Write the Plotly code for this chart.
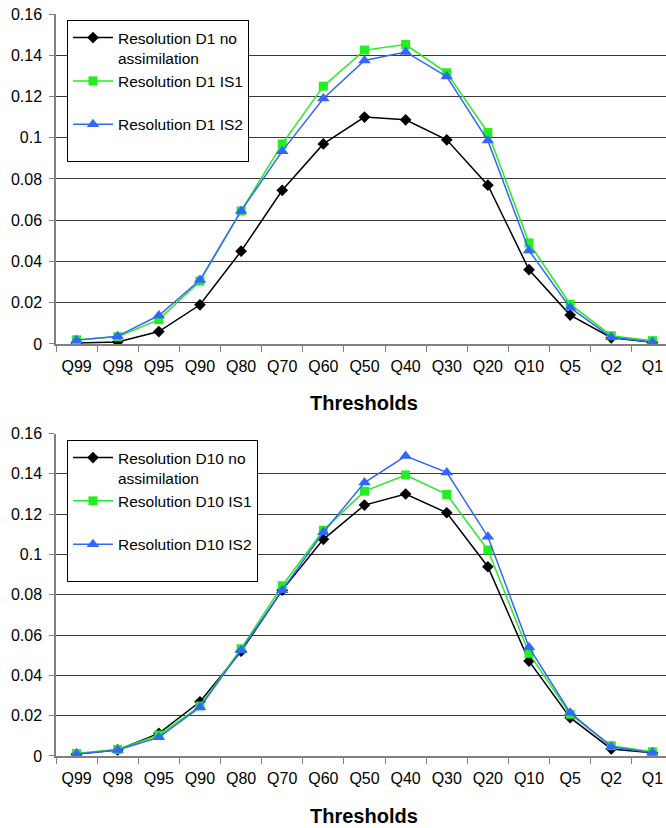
import plotly.graph_objects as go

categories = ["Q99", "Q98", "Q95", "Q90", "Q80", "Q70", "Q60", "Q50", "Q40", "Q30", "Q20", "Q10", "Q5", "Q2", "Q1"]

d1_no_assim = [0.0005, 0.001, 0.006, 0.019, 0.045, 0.0745, 0.097, 0.110, 0.1087, 0.099, 0.077, 0.036, 0.014, 0.003, 0.0008]
d1_is1 = [0.002, 0.0035, 0.0118, 0.0305, 0.0645, 0.097, 0.125, 0.1425, 0.1452, 0.1315, 0.1025, 0.049, 0.0193, 0.004, 0.0016]
d1_is2 = [0.0018, 0.0038, 0.0138, 0.031, 0.0645, 0.0935, 0.119, 0.1375, 0.1416, 0.1297, 0.0986, 0.0453, 0.0176, 0.0032, 0.0009]

d10_no_assim = [0.001, 0.003, 0.0112, 0.0269, 0.052, 0.0823, 0.1075, 0.1245, 0.130, 0.1207, 0.0939, 0.0471, 0.019, 0.0035, 0.0016]
d10_is1 = [0.0012, 0.0033, 0.0104, 0.0248, 0.0532, 0.0845, 0.112, 0.1314, 0.1394, 0.1298, 0.1022, 0.0509, 0.0207, 0.0051, 0.0021]
d10_is2 = [0.001, 0.003, 0.0093, 0.0242, 0.0525, 0.0823, 0.111, 0.1357, 0.1488, 0.1407, 0.1088, 0.0539, 0.0215, 0.0046, 0.0016]

top_names = ["Resolution D1 no<br>assimilation", "Resolution D1 IS1<br> ", "Resolution D1 IS2<br> "]
bottom_names = ["Resolution D10 no<br>assimilation", "Resolution D10 IS1<br> ", "Resolution D10 IS2<br> "]
x_title = "Thresholds"

FONT = "Liberation Sans, Arial, sans-serif"
BLACK = "#000000"
GREEN = "#22EE22"
BLUE = "#3366FF"

styles = [
    dict(color=BLACK, symbol="diamond", size=9),
    dict(color=GREEN, symbol="square", size=9),
    dict(color=BLUE, symbol="triangle-up", size=11),
]

fig = go.Figure()

def add_series(values_list, names, xa, ya, legend):
    for i, (vals, name) in enumerate(zip(values_list, names)):
        st = styles[i]
        fig.add_trace(go.Scatter(
            x=categories, y=vals, name=name, mode="lines+markers",
            line=dict(color=st["color"], width=1.5),
            marker=dict(color=st["color"], symbol=st["symbol"], size=st["size"]),
            xaxis=xa, yaxis=ya, legend=legend, legendgroup=legend + str(i),
        ))

add_series([d1_no_assim, d1_is1, d1_is2], top_names, "x", "y", "legend")
add_series([d10_no_assim, d10_is1, d10_is2], bottom_names, "x2", "y2", "legend2")

xaxis_common = dict(
    type="category", categoryorder="array", categoryarray=categories,
    range=[-0.5, 14.33], tickson="boundaries", ticks="outside", ticklen=6,
    tickcolor="#808080", showline=True, linecolor="#808080", linewidth=2,
    showgrid=False, zeroline=False, tickfont=dict(family=FONT, size=16, color="#000"),
    ticklabelstandoff=7,
)
yaxis_common = dict(
    range=[0, 0.16], dtick=0.02, tick0=0, ticks="outside", ticklen=5,
    tickcolor="#808080", showline=True, linecolor="#808080", linewidth=1.5,
    showgrid=True, gridcolor="#3a3a3a", gridwidth=1, zeroline=False,
    tickfont=dict(family=FONT, size=16, color="#000"), ticklabelstandoff=4,
)

legend_common = dict(
    bgcolor="white", bordercolor="#000", borderwidth=1,
    font=dict(family=FONT, size=15.5, color="#000"), valign="top",
    tracegroupgap=0, xanchor="left", yanchor="top", itemwidth=40,
)

fig.update_layout(
    width=666, height=828,
    margin=dict(l=56, r=0, t=14, b=72),
    paper_bgcolor="white", plot_bgcolor="white",
    showlegend=True,
    xaxis=dict(domain=[0, 1], anchor="y", **xaxis_common),
    yaxis=dict(domain=[0.5553, 1.0], anchor="x", **yaxis_common),
    xaxis2=dict(domain=[0, 1], anchor="y2", **xaxis_common),
    yaxis2=dict(domain=[0.0, 0.4346], anchor="x2", **yaxis_common),
    legend=dict(x=0.018, y=0.9919, **legend_common),
    legend2=dict(x=0.018, y=0.4259, **legend_common),
    annotations=[
        dict(text="<b>" + x_title + "</b>", xref="paper", yref="paper", x=0.505, y=0.4757,
             xanchor="center", yanchor="middle", showarrow=False,
             font=dict(family=FONT, size=20, color="#000")),
        dict(text="<b>" + x_title + "</b>", xref="paper", yref="paper", x=0.505, y=-0.0809,
             xanchor="center", yanchor="middle", showarrow=False,
             font=dict(family=FONT, size=20, color="#000")),
    ],
)

fig.write_html("out.html")
